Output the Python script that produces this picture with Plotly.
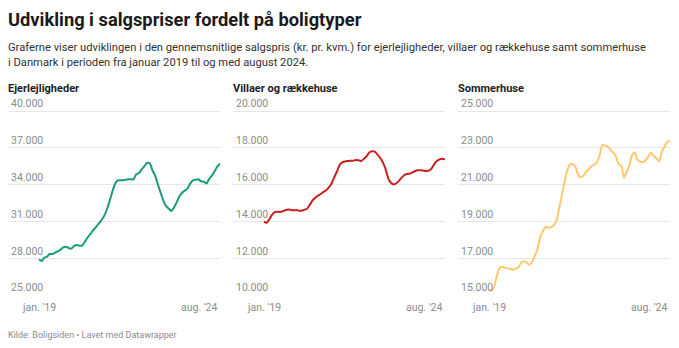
import pandas as pd
import plotly.graph_objects as go

months = pd.date_range("2019-01-01", periods=68, freq="MS")

ejerlejligheder = [27910, 27770, 28040, 28130, 28340, 28340, 28450, 28560, 28700, 28890,
                   28940, 28830, 28780, 29000, 29080, 29020, 29020, 29350, 29680, 29970,
                   30270, 30520, 30790, 31060, 31410, 31930, 32530, 33290, 33970, 34320,
                   34350, 34350, 34400, 34430, 34430, 34430, 34840, 34950, 35220, 35490,
                   35760, 35760, 35190, 34730, 34020, 33370, 32720, 32260, 32040, 31850,
                   32120, 32560, 33020, 33340, 33510, 33670, 34100, 34350, 34400, 34430,
                   34270, 34240, 34080, 34460, 34730, 35080, 35460, 35710]
villaer = [13980, 13930, 14110, 14350, 14510, 14530, 14510, 14550, 14620, 14650,
           14620, 14600, 14620, 14580, 14580, 14640, 14690, 14910, 15140, 15290,
           15400, 15490, 15600, 15690, 15850, 16070, 16390, 16700, 17060, 17210,
           17260, 17280, 17300, 17300, 17340, 17320, 17280, 17410, 17540, 17740,
           17810, 17790, 17640, 17460, 17210, 16850, 16340, 16100, 16000, 16070,
           16210, 16380, 16520, 16580, 16590, 16670, 16740, 16780, 16780, 16760,
           16740, 16760, 16870, 17100, 17280, 17370, 17410, 17370]
sommerhuse = [15230, 15250, 15450, 16080, 16450, 16540, 16480, 16450, 16410, 16370,
              16430, 16520, 16770, 16830, 16760, 16650, 16810, 17140, 17500, 18170,
              18480, 18710, 18660, 18690, 18800, 19070, 19710, 20430, 21160, 21760,
              22100, 22100, 21960, 21520, 21390, 21500, 21700, 21850, 21990, 22080,
              22210, 22610, 23150, 23130, 23040, 22880, 22740, 22520, 22100, 22030,
              21380, 21700, 22030, 22610, 22750, 22340, 22250, 22210, 22320, 22520,
              22750, 22550, 22430, 22250, 22790, 23060, 23330, 23370]

panel_titles = ["Ejerlejligheder", "Villaer og rækkehuse", "Sommerhuse"]
series = [ejerlejligheder, villaer, sommerhuse]
colors = ["#1a9b7b", "#c8201e", "#fec86f"]
y_ticks = [[25000, 28000, 31000, 34000, 37000, 40000],
           [10000, 12000, 14000, 16000, 18000, 20000],
           [15000, 17000, 19000, 21000, 23000, 25000]]
x_labels = ["jan. '19", "aug. '24"]

W, H = 679, 348
FONT = "Roboto"
panel_left = [8, 233, 458]
panel_width = 212
data_offset = 31  # px from panel left to first data point
grid_top, grid_bottom = 111, 295
top_pad = 20

def tick_text(v):
    return f"{v:,}".replace(",", ".")

fig = go.Figure()
span = months[-1] - months[0]
data_px = panel_width - data_offset
x_start = months[0] - span * (data_offset / data_px)

for i, (vals, col, ticks) in enumerate(zip(series, colors, y_ticks)):
    n = i + 1
    xa = "x" if n == 1 else f"x{n}"
    ya = "y" if n == 1 else f"y{n}"
    fig.add_trace(go.Scatter(x=months, y=vals, mode="lines",
                             line=dict(color=col, width=2, shape="spline", smoothing=0.5),
                             xaxis=xa, yaxis=ya, hoverinfo="skip", showlegend=False))
    vmin, vmax = ticks[0], ticks[-1]
    per_px = (vmax - vmin) / (grid_bottom - grid_top)
    ytop = vmax + per_px * top_pad
    x0 = panel_left[i] / W
    x1 = (panel_left[i] + panel_width) / W
    xkey = "xaxis" if n == 1 else f"xaxis{n}"
    ykey = "yaxis" if n == 1 else f"yaxis{n}"
    fig.layout[xkey] = dict(domain=[x0, x1], range=[x_start, months[-1]],
                            showgrid=False, showticklabels=False, zeroline=False,
                            showline=False, anchor=ya, fixedrange=True)
    fig.layout[ykey] = dict(domain=[1 - grid_bottom / H, 1 - (grid_top - top_pad) / H],
                            range=[vmin, ytop], tickvals=ticks,
                            ticktext=[tick_text(t) for t in ticks],
                            ticklabelposition="inside top", ticklabeloverflow="allow",
                            ticks="", automargin=False,
                            showgrid=True, gridcolor="#e6e6e6", gridwidth=1,
                            zeroline=False, showline=False, anchor=xa,
                            tickfont=dict(family=FONT, size=10.5, color="#8c8c8c"),
                            ticklabelstandoff=0, fixedrange=True)
    # panel title
    fig.add_annotation(x=x0, y=1 - 88 / H, xref="paper", yref="paper", xshift=-2,
                       text=f"<b>{panel_titles[i]}</b>", showarrow=False,
                       xanchor="left", yanchor="middle",
                       font=dict(family=FONT, size=11, color="#222222"))
    # x tick labels
    fig.add_annotation(x=months[0], y=1 - 307 / H, xref=xa, yref="paper",
                       text=x_labels[0], showarrow=False, xanchor="center", yanchor="middle",
                       font=dict(family=FONT, size=10.5, color="#8c8c8c"))
    fig.add_annotation(x=months[-1], y=1 - 307 / H, xref=xa, yref="paper",
                       text=x_labels[1], showarrow=False, xanchor="right", yanchor="middle",
                       font=dict(family=FONT, size=10.5, color="#8c8c8c"))

fig.add_annotation(x=8 / W, y=1 - 19 / H, xref="paper", yref="paper", xshift=-2,
                   text="<b>Udvikling i salgspriser fordelt på boligtyper</b>",
                   showarrow=False, xanchor="left", yanchor="middle",
                   font=dict(family=FONT, size=18.3, color="#1a1a1a"))
fig.add_annotation(x=8 / W, y=1 - 55 / H, xref="paper", yref="paper", xshift=-2,
                   text=("Graferne viser udviklingen i den gennemsnitlige salgspris (kr. pr. kvm.) for "
                         "ejerlejligheder, villaer og rækkehuse samt sommerhuse<br>i Danmark i perioden "
                         "fra januar 2019 til og med august 2024."),
                   showarrow=False, xanchor="left", yanchor="middle", align="left",
                   font=dict(family=FONT, size=11.2, color="#333333"))
fig.add_annotation(x=8 / W, y=1 - 335 / H, xref="paper", yref="paper", xshift=-2,
                   text="Kilde: Boligsiden • Lavet med Datawrapper",
                   showarrow=False, xanchor="left", yanchor="middle",
                   font=dict(family=FONT, size=9, color="#8c8c8c"))

fig.update_layout(width=W, height=H, margin=dict(l=0, r=0, t=0, b=0, autoexpand=False),
                  paper_bgcolor="white", plot_bgcolor="white",
                  font=dict(family=FONT))
fig.write_html("out.html", config={"displayModeBar": False})
